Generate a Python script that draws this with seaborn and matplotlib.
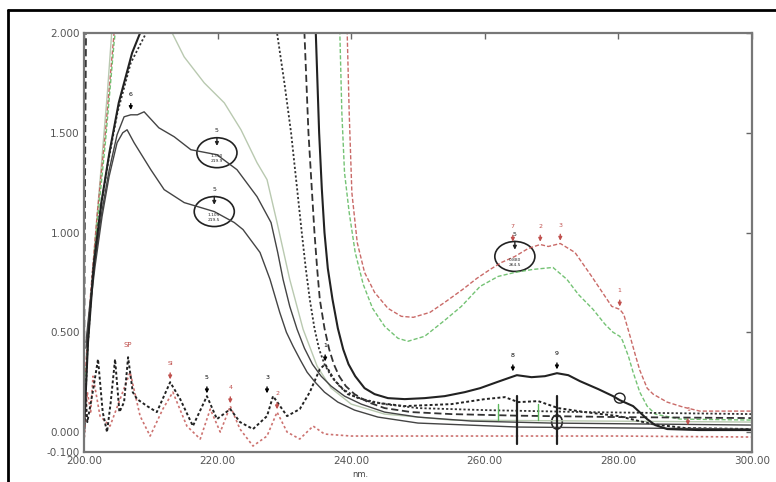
import matplotlib
matplotlib.use("Agg")
import matplotlib.pyplot as plt
from matplotlib.patches import Ellipse
from matplotlib.lines import Line2D
import seaborn as sns

# ---------------- data (wavelength nm, absorbance) ----------------
# upper solid black curve
s1_x = [200.3, 200.9, 201.65, 202.7, 203.75, 204.95, 206.0, 207.0, 208.0, 209.0, 211.2, 213.5, 216.0, 219.9,
        222.9, 225.9, 228.0, 229.0, 229.8, 230.8, 231.9, 233.0, 234.2, 235.5, 237.0, 239.0, 241.5, 245.0,
        250.0, 258.0, 270.0, 300.0]
s1_y = [0.45, 0.65, 0.86, 1.11, 1.31, 1.49, 1.58, 1.59, 1.59, 1.605, 1.525, 1.48, 1.415, 1.39,
        1.315, 1.18, 1.05, 0.9, 0.765, 0.63, 0.515, 0.42, 0.34, 0.28, 0.23, 0.18, 0.14, 0.1,
        0.075, 0.055, 0.045, 0.035]
# lower solid black curve
s2_x = [200.3, 200.9, 201.65, 202.7, 203.75, 204.95, 205.8, 206.45, 207.5, 210.0, 212.0, 215.0, 219.5, 222.5,
        223.8, 226.35, 227.85, 229.3, 230.3, 231.3, 232.4, 233.4, 234.6, 236.0, 238.0, 240.5, 244.0,
        250.0, 265.0, 300.0]
s2_y = [0.42, 0.62, 0.83, 1.08, 1.28, 1.45, 1.5, 1.515, 1.45, 1.315, 1.215, 1.15, 1.105, 1.05,
        1.015, 0.9, 0.765, 0.6, 0.5, 0.43, 0.36, 0.3, 0.25, 0.2, 0.15, 0.11, 0.075,
        0.045, 0.025, 0.015]
# black dotted curve
d1_x = [200.0, 200.5, 201.3, 202.4, 203.6, 205.0, 207.0, 209.3, 210.5, 228.7, 228.9, 230.0, 231.0, 231.9,
        232.6, 233.2, 233.8, 234.5, 235.2, 236.0, 237.0, 238.5, 241.0, 245.0, 250.0, 260.0, 275.0, 300.0]
d1_y = [-0.05, 0.4, 0.8, 1.1, 1.35, 1.6, 1.85, 2.0, 2.2, 2.2, 2.0, 1.75, 1.5, 1.22,
        1.0, 0.82, 0.665, 0.52, 0.415, 0.34, 0.28, 0.22, 0.17, 0.14, 0.12, 0.11, 0.1, 0.09]
# black dashed curve (near-vertical on the left)
d2_x = [200.0, 200.1, 200.2, 200.3, 200.4, 232.8, 233.0, 233.6, 234.1, 234.5, 234.9, 235.3, 236.0, 236.7,
        237.4, 238.2, 239.2, 240.5, 242.5, 245.0, 249.0, 255.0, 265.0, 280.0, 300.0]
d2_y = [0.2, 0.9, 1.5, 2.0, 2.2, 2.2, 2.0, 1.5, 1.22, 1.0, 0.82, 0.665, 0.52, 0.415,
        0.34, 0.28, 0.23, 0.19, 0.15, 0.12, 0.1, 0.09, 0.082, 0.075, 0.07]
# solid black curve with the 265-271 nm band
s3_x = [200.0, 200.6, 201.5, 202.6, 203.8, 205.2, 207.2, 209.0, 210.0, 234.5, 234.7, 235.2, 235.6, 236.0,
        236.5, 237.2, 238.0, 238.8, 239.6, 240.6, 242.0, 243.5, 245.5, 248.0, 251.0, 254.0, 257.0, 259.3,
        261.8, 263.5, 264.8, 267.0, 269.0, 270.8, 272.5, 274.25, 277.0, 279.2, 280.2, 282.2, 284.3,
        285.5, 287.3, 292.0, 300.0]
s3_y = [0.0, 0.45, 0.85, 1.15, 1.4, 1.65, 1.9, 2.05, 2.2, 2.2, 2.0, 1.5, 1.22, 1.0,
        0.82, 0.665, 0.52, 0.415, 0.34, 0.28, 0.22, 0.19, 0.17, 0.165, 0.17, 0.18, 0.2, 0.22,
        0.25, 0.27, 0.285, 0.275, 0.28, 0.295, 0.285, 0.255, 0.215, 0.18, 0.16, 0.13, 0.065,
        0.035, 0.015, 0.01, 0.01]
# red dashed curve
r_x = [200.2, 201.0, 202.0, 203.2, 204.5, 206.0, 238.8, 239.4, 239.7, 240.1, 240.9, 242.0, 243.5,
       245.5, 247.5, 249.3, 251.8, 254.0, 256.7, 258.8, 260.8, 262.5, 264.5, 266.5, 268.3, 269.5, 271.3,
       273.5, 276.0, 278.0, 279.0, 280.2, 280.8, 281.75, 282.5, 283.2, 284.3, 285.2, 287.3, 289.7,
       292.2, 300.0]
r_y = [0.3, 0.7, 1.1, 1.5, 2.0, 2.4, 2.4, 2.0, 1.6, 1.2, 0.95, 0.8, 0.7,
       0.62, 0.58, 0.575, 0.6, 0.65, 0.715, 0.77, 0.815, 0.85, 0.88, 0.92, 0.94, 0.93, 0.945,
       0.9, 0.78, 0.68, 0.63, 0.615, 0.59, 0.48, 0.39, 0.31, 0.22, 0.19, 0.15, 0.125,
       0.105, 0.105]
# green dashed curve
g_x = [200.2, 201.0, 202.0, 203.2, 204.5, 206.0, 238.0, 238.3, 238.6, 239.0, 239.7, 240.6, 241.8,
       243.2, 245.0, 247.0, 248.5, 251.0, 254.0, 256.5, 259.3, 262.0, 264.5, 267.2, 270.2, 272.3,
       274.0, 276.2, 278.0, 279.2, 280.2, 280.6, 281.5, 282.2, 283.2, 284.3, 285.5, 289.2, 300.0]
g_y = [0.25, 0.65, 1.05, 1.45, 1.95, 2.4, 2.4, 2.0, 1.6, 1.3, 1.1, 0.9, 0.74,
       0.62, 0.53, 0.47, 0.455, 0.48, 0.56, 0.63, 0.73, 0.78, 0.8, 0.815, 0.825, 0.765,
       0.69, 0.615, 0.54, 0.5, 0.48, 0.46, 0.38, 0.3, 0.2, 0.13, 0.09, 0.065, 0.06]
# faint grey-green curve
g0_x = [200.5, 201.5, 202.5, 203.5, 205.0, 212.5, 213.2, 215.0, 218.0, 221.0, 223.5, 225.9, 227.4,
        228.9, 230.8, 232.8, 234.9, 237.0, 240.0, 245.0, 255.0, 300.0]
g0_y = [0.4, 0.9, 1.3, 1.7, 2.4, 2.4, 2.0, 1.88, 1.75, 1.65, 1.515, 1.35, 1.265,
        1.05, 0.765, 0.515, 0.33, 0.22, 0.14, 0.09, 0.06, 0.05]
# black noisy (derivative-like) curve
n1_x = [200.0, 200.5, 201.3, 202.1, 202.8, 203.45, 204.0, 204.65, 205.3, 206.0, 206.6, 207.3, 207.95,
        209.45, 210.9, 212.9, 214.4, 216.3, 218.4, 219.9, 221.9, 223.35, 225.3, 227.4, 228.3, 230.4,
        232.3, 233.8, 235.3, 236.1, 237.5, 239.5, 243.0, 248.0, 255.0, 260.0, 263.0, 265.0, 268.0,
        271.0, 275.0, 280.0, 285.0, 290.0, 300.0]
n1_y = [0.3, 0.05, 0.2, 0.365, 0.1, 0.0, 0.15, 0.365, 0.1, 0.15, 0.375, 0.2, 0.165,
        0.13, 0.1, 0.25, 0.165, 0.03, 0.18, 0.065, 0.115, 0.05, 0.015, 0.08, 0.18, 0.08,
        0.115, 0.2, 0.315, 0.34, 0.26, 0.19, 0.15, 0.13, 0.14, 0.165, 0.175, 0.15, 0.155,
        0.12, 0.1, 0.08, 0.04, 0.02, 0.015]
# red noisy curve
n2_x = [200.0, 200.5, 201.0, 201.35, 202.4, 203.9, 205.4, 206.9, 208.4, 209.9, 211.8, 213.3, 215.4,
        217.4, 218.9, 220.4, 221.9, 223.35, 225.3, 227.4, 228.9, 230.4, 232.3, 234.3, 236.0,
        240.0, 260.0, 280.0, 300.0]
n2_y = [-0.05, 0.2, 0.1, 0.28, 0.08, 0.03, 0.165, 0.3, 0.08, -0.02, 0.115, 0.2, 0.03,
        -0.035, 0.115, 0.0, 0.13, 0.015, -0.07, -0.02, 0.1, 0.0, -0.035, 0.03, -0.01,
        -0.02, -0.02, -0.02, -0.025]

# peak annotations
pk_x = [207.0, 212.9, 218.4, 221.9, 227.4, 228.9, 236.1, 264.2, 270.8, 264.2, 268.3, 271.3, 280.2, 290.4]
pk_y = [1.6, 0.25, 0.18, 0.13, 0.18, 0.1, 0.34, 0.29, 0.3, 0.94, 0.94, 0.945, 0.615, 0.02]
pk_lab = ["6", "SI", "5", "4", "3", "2", "1", "8", "9", "7", "2", "3", "1", "1"]
pk_col = ["black", "#c0504d", "black", "#c0504d", "black", "#c0504d", "black", "black", "black",
          "#c0504d", "#c0504d", "#c0504d", "#c0504d", "#c0504d"]
# circled values
circ_x = [219.9, 219.5, 264.5]
circ_y = [1.4, 1.105, 0.88]
circ_txt = ["1.390\n219.9", "1.105\n219.5", "0.880\n264.5"]

xticks = [200, 220, 240, 260, 280, 300]
xtick_labels = ["200.00", "220.00", "240.00", "260.00", "280.00", "300.00"]
yticks = [-0.1, 0.0, 0.5, 1.0, 1.5, 2.0]
ytick_labels = ["-0.100", "0.000", "0.500", "1.000", "1.500", "2.000"]

# ---------------- plot ----------------
sns.set_style("white")
plt.rcParams["font.family"] = ["DejaVu Sans"]

fig = plt.figure(figsize=(7.76, 4.82), dpi=100)
ax = fig.add_axes([84 / 776, 1 - 452 / 482, (752 - 84) / 776, (452 - 33) / 482])

RED = "#c0504d"
GREEN = "#5cb85c"
lw = 1.0

def draw(x, y, color, ls, width=lw, alpha=1.0):
    sns.lineplot(x=x, y=y, ax=ax, color=color, linestyle=ls, linewidth=width,
                 sort=False, estimator=None, alpha=alpha, legend=False)

draw(g0_x, g0_y, "#b9c9b0", "-", 1.0)
draw(r_x, r_y, RED, (0, (3, 1.5)), 1.0, 0.85)
draw(g_x, g_y, GREEN, (0, (3, 1.5)), 1.0, 0.85)
draw(n2_x, n2_y, RED, (0, (1.5, 1.5)), 1.2, 0.8)
draw(n1_x, n1_y, "#222222", (0, (1.5, 1.2)), 1.4)
draw(d1_x, d1_y, "#333333", (0, (1.2, 1.2)), 1.3)
draw(d2_x, d2_y, "#333333", (0, (4, 2)), 1.3)
draw(s1_x, s1_y, "#444444", "-", 1.0)
draw(s2_x, s2_y, "#444444", "-", 1.0)
draw(s3_x, s3_y, "#222222", "-", 1.5)

# peak markers
for x, y, lab, c in zip(pk_x, pk_y, pk_lab, pk_col):
    ax.annotate("", xy=(x, y), xytext=(x, y + 0.06),
                arrowprops=dict(arrowstyle="-|>", color=c, lw=1.0, mutation_scale=5))
    ax.text(x, y + 0.08, lab, color=c, fontsize=4.5, ha="center", va="bottom")

# vertical marker lines at 265/271 nm
for x in [264.8, 270.8]:
    ax.plot([x, x], [0.18, -0.06], color="#222222", lw=1.6)
ax.add_patch(Ellipse((270.8, 0.05), 1.6, 0.07, fill=False, ec="#222222", lw=1.2))
ax.add_patch(Ellipse((280.2, 0.17), 1.6, 0.05, fill=False, ec="#222222", lw=1.0))
for x in [262.0, 268.0]:
    ax.plot([x, x], [0.14, 0.06], color=GREEN, lw=1.0)

# circled values
for x, y, t in zip(circ_x, circ_y, circ_txt):
    ax.add_patch(Ellipse((x, y), 6.0, 0.15, fill=False, ec="#222222", lw=1.2))
    ax.annotate("", xy=(x, y + 0.02), xytext=(x, y + 0.09),
                arrowprops=dict(arrowstyle="-|>", color="#222222", lw=1.0, mutation_scale=5))
    ax.text(x, y + 0.1, "5", fontsize=4.5, ha="center", va="bottom")
    ax.text(x, y - 0.03, t, fontsize=3.2, ha="center", va="center", linespacing=1.2)

ax.text(206.6, 0.42, "SP", color=RED, fontsize=5, ha="center", va="bottom")

ax.set_xlim(200, 300)
ax.set_ylim(-0.1, 2.0)
ax.set_xticks(xticks)
ax.set_xticklabels(xtick_labels)
ax.set_yticks(yticks)
ax.set_yticklabels(ytick_labels)
ax.tick_params(direction="in", top=True, right=True, length=4, width=1.0, colors="#666666",
               labelsize=7.5, labelcolor="#555555", pad=3)
for sp in ax.spines.values():
    sp.set_color("#777777")
    sp.set_linewidth(1.6)
ax.set_xlabel("")
ax.set_ylabel("")
ax.text(241.3, -0.215, "nm.", fontsize=6, color="#444444", ha="center", va="center", clip_on=False)

# outer frame
fig.add_artist(Line2D([8 / 776, 1.0], [1 - 10 / 482] * 2, color="black", lw=2.0))
fig.add_artist(Line2D([8 / 776] * 2, [0.0, 1 - 10 / 482], color="black", lw=2.0))

fig.savefig("out.png", dpi=100)
